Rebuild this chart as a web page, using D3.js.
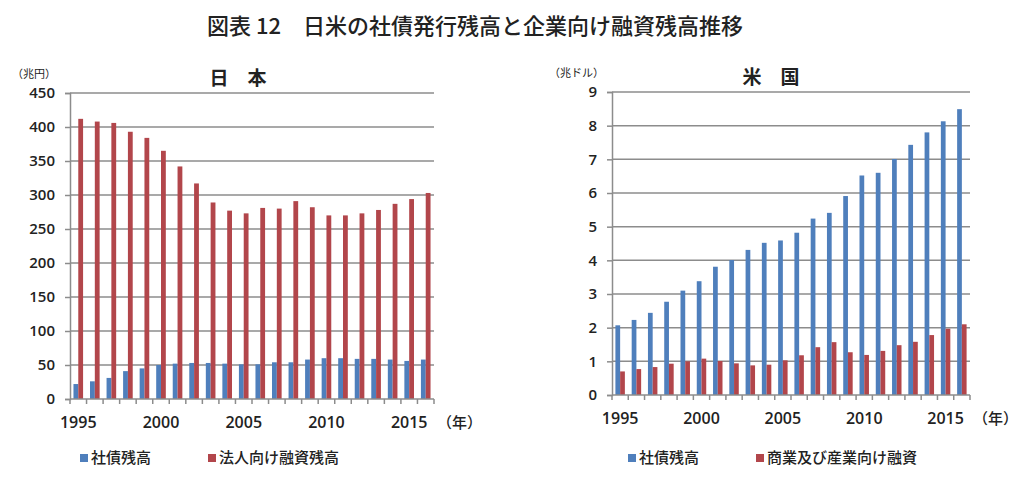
<!DOCTYPE html>
<html>
<head>
<meta charset="utf-8">
<script src="https://cdn.jsdelivr.net/npm/d3@7"></script>
<style>
  body { margin: 0; background: #fff; }
  text { font-family: "Open Sans", "Noto Sans CJK JP", sans-serif; fill: #222; }
  .jp { font-family: "Noto Sans CJK JP", sans-serif; }
</style>
</head>
<body>
<div id="chart"></div>
<script>
// years shared by both panels
const years = d3.range(1995, 2017);
const yearLabels = [1995, 2000, 2005, 2010, 2015];

// 日本 (兆円)
const jpBonds = [22, 26, 31, 41, 45, 50, 52, 53, 53, 52, 51, 51, 54, 54, 58, 60, 60, 59, 59, 58, 56, 58];
const jpLoans = [412, 408, 406, 393, 384, 365, 342, 317, 289, 277, 273, 281, 280, 291, 282, 270, 270, 273, 278, 287, 294, 303];
const jpTicks = d3.range(0, 451, 50);

// 米国 (兆ドル)
const usBonds = [2.07, 2.23, 2.44, 2.77, 3.1, 3.38, 3.81, 4.01, 4.31, 4.52, 4.59, 4.82, 5.24, 5.41, 5.91, 6.52, 6.6, 7.01, 7.43, 7.8, 8.13, 8.49];
const usLoans = [0.7, 0.77, 0.83, 0.93, 1.0, 1.08, 1.01, 0.94, 0.88, 0.9, 1.03, 1.18, 1.42, 1.57, 1.27, 1.19, 1.31, 1.48, 1.58, 1.78, 1.97, 2.1];
const usTicks = d3.range(0, 10, 1);

const blue = "#4f7fbc", red = "#b2464b";

const W = 1024, H = 482;
const svg = d3.select("#chart").append("svg").attr("width", W).attr("height", H);

svg.append("text").attr("class", "jp")
  .attr("x", 475).attr("y", 34).attr("text-anchor", "middle")
  .style("font-size", "22px").style("font-weight", 500)
  .text("図表 12　日米の社債発行残高と企業向け融資残高推移");

function panel(o) {
  const x = d3.scaleBand().domain(years).range([o.x0, o.x1]);
  const inner = d3.scaleBand().domain(["a", "b"]).range([0, x.bandwidth()]).paddingInner(0).paddingOuter(0.72);
  const y = d3.scaleLinear().domain([0, o.max]).range([o.y0, o.y1]);
  const g = svg.append("g");

  // grid
  g.selectAll(".grid").data(o.ticks.slice(1)).join("line")
    .attr("x1", o.x0).attr("x2", o.x1)
    .attr("y1", d => y(d)).attr("y2", d => y(d))
    .attr("stroke", "#8c8c8c").attr("stroke-width", 1.5);

  // y axis
  const ya = g.append("g").attr("transform", `translate(${o.x0},0)`)
    .call(d3.axisLeft(y).tickValues(o.ticks).tickSize(5).tickPadding(10).tickFormat(d3.format("d")));
  ya.select(".domain").attr("stroke", "#8c8c8c").attr("stroke-width", 1.5);
  ya.selectAll(".tick line").attr("stroke", "#8c8c8c").attr("stroke-width", 1.5);
  ya.selectAll("text").style("font-size", "15px").style("font-weight", 600).attr("fill", "#222");

  // bars
  g.selectAll(".b1").data(o.s1).join("rect")
    .attr("x", (d, i) => x(years[i]) + inner("a"))
    .attr("width", inner.bandwidth())
    .attr("y", d => y(d)).attr("height", d => y(0) - y(d))
    .attr("fill", blue);
  g.selectAll(".b2").data(o.s2).join("rect")
    .attr("x", (d, i) => x(years[i]) + inner("b"))
    .attr("width", inner.bandwidth())
    .attr("y", d => y(d)).attr("height", d => y(0) - y(d))
    .attr("fill", red);

  // x axis
  const xa = g.append("g").attr("transform", `translate(0,${o.y0})`)
    .call(d3.axisBottom(x).tickValues(yearLabels).tickSize(0).tickPadding(18));
  xa.select(".domain").remove();
  xa.selectAll("text").style("font-size", "16px").style("font-weight", 600).attr("fill", "#222");
  g.append("line").attr("x1", o.x0).attr("x2", o.x1).attr("y1", o.y0).attr("y2", o.y0)
    .attr("stroke", "#8c8c8c").attr("stroke-width", 1.5);
  g.selectAll(".xt").data(years.concat([2017])).join("line")
    .attr("x1", d => d === 2017 ? o.x1 : x(d)).attr("x2", d => d === 2017 ? o.x1 : x(d))
    .attr("y1", o.y0).attr("y2", o.y0 + 5)
    .attr("stroke", "#8c8c8c").attr("stroke-width", 1.5);

  g.append("text").attr("class", "jp").attr("x", o.x1 + 3).attr("y", o.y0 + 29)
    .style("font-size", "15px").style("font-weight", 500).text("（年）");

  // unit and title
  g.append("text").attr("class", "jp").attr("x", o.unitX).attr("y", o.y1 - 15)
    .style("font-size", "11px").text(o.unit);
  g.append("text").attr("class", "jp").attr("x", o.titleX).attr("y", o.y1 - 8)
    .attr("text-anchor", "middle").style("font-size", "19px").style("font-weight", 700)
    .text(o.title);

  // legend
  const lg = g.append("g").attr("transform", `translate(0,458)`);
  o.legend.forEach((l, i) => {
    lg.append("rect").attr("x", l.x).attr("y", -4).attr("width", 8).attr("height", 8)
      .attr("fill", i === 0 ? blue : red);
    lg.append("text").attr("class", "jp").attr("x", l.x + 11).attr("y", 0)
      .attr("dy", "0.35em").style("font-size", "15px").style("font-weight", 500).text(l.text);
  });
}

panel({
  x0: 70, x1: 434, y0: 399, y1: 93, max: 450, ticks: jpTicks,
  s1: jpBonds, s2: jpLoans, unit: "（兆円）", unitX: 12, title: "日　本", titleX: 238,
  legend: [{ x: 80, text: "社債残高" }, { x: 208, text: "法人向け融資残高" }]
});

panel({
  x0: 612, x1: 970, y0: 395, y1: 92, max: 9, ticks: usTicks,
  s1: usBonds, s2: usLoans, unit: "（兆ドル）", unitX: 549, title: "米　国", titleX: 771,
  legend: [{ x: 628, text: "社債残高" }, { x: 756, text: "商業及び産業向け融資" }]
});
</script>
</body>
</html>
